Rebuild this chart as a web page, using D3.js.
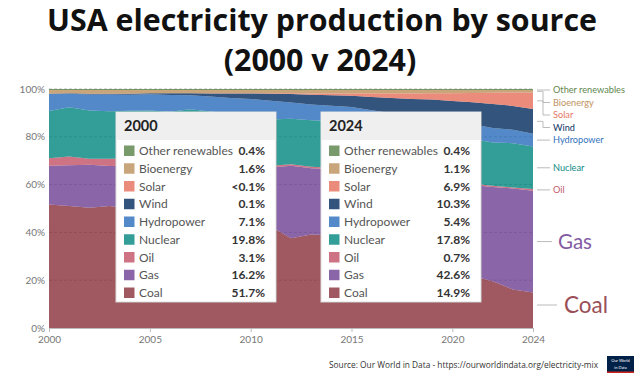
<!DOCTYPE html>
<html>
<head>
<meta charset="utf-8">
<script src="https://cdn.jsdelivr.net/npm/d3@7"></script>
<style>
  body { margin: 0; background: #fff; }
  svg { display: block; }
</style>
</head>
<body>
<svg id="chart" width="644" height="377"></svg>
<script>
// yearly share of US electricity (%)
const years = d3.range(2000, 2025);
const coal = [51.7, 50.9, 50.1, 50.8, 49.8, 49.6, 49.0, 48.5, 48.2, 44.5, 44.8, 42.3, 37.4, 39.1, 38.7, 33.2, 30.4, 30.1, 27.4, 23.5, 19.3, 21.9, 19.7, 16.2, 14.9];
const gas = [16.2, 17.1, 17.9, 16.7, 17.9, 18.8, 20.1, 21.6, 21.4, 23.3, 23.9, 24.7, 30.3, 27.7, 27.5, 32.7, 33.8, 31.7, 35.1, 38.4, 40.5, 38.3, 39.8, 42.5, 42.6];
const oil = [3.1, 3.6, 2.5, 3.0, 3.0, 3.0, 1.6, 1.6, 1.1, 1.0, 0.9, 0.7, 0.6, 0.7, 0.7, 0.7, 0.6, 0.5, 0.6, 0.5, 0.4, 0.5, 0.6, 0.4, 0.7];
const nuclear = [19.8, 20.6, 20.2, 19.7, 19.9, 19.3, 19.4, 19.4, 19.6, 20.2, 19.6, 19.3, 19.0, 19.4, 19.5, 19.5, 19.7, 20.0, 19.3, 19.6, 19.7, 18.9, 18.2, 18.6, 17.8];
const hydro = [7.1, 5.6, 6.6, 7.0, 6.7, 6.7, 7.0, 5.8, 6.2, 6.8, 6.3, 7.8, 6.8, 6.6, 6.3, 6.1, 6.5, 7.4, 7.0, 6.6, 7.2, 6.2, 6.1, 5.7, 5.4];
const wind = [0.1, 0.2, 0.3, 0.3, 0.4, 0.4, 0.7, 0.8, 1.3, 1.9, 2.3, 2.9, 3.5, 4.1, 4.4, 4.7, 5.6, 6.3, 6.5, 7.1, 8.4, 9.2, 10.2, 10.0, 10.3];
const solar = [0.01, 0.01, 0.01, 0.01, 0.01, 0.02, 0.02, 0.02, 0.03, 0.04, 0.1, 0.2, 0.3, 0.5, 0.7, 0.9, 1.4, 1.9, 2.3, 2.6, 3.3, 3.9, 4.7, 5.6, 6.9];
const bio = [1.6, 1.4, 1.6, 1.6, 1.6, 1.4, 1.4, 1.4, 1.4, 1.4, 1.4, 1.4, 1.4, 1.5, 1.5, 1.5, 1.5, 1.5, 1.5, 1.4, 1.4, 1.3, 1.2, 1.1, 1.1];
const other = [0.4, 0.4, 0.4, 0.4, 0.4, 0.4, 0.4, 0.4, 0.4, 0.4, 0.4, 0.4, 0.4, 0.4, 0.4, 0.4, 0.4, 0.4, 0.4, 0.4, 0.4, 0.4, 0.4, 0.4, 0.4];

const sources = ["Coal", "Gas", "Oil", "Nuclear", "Hydropower", "Wind", "Solar", "Bioenergy", "Other renewables"];
const series = [coal, gas, oil, nuclear, hydro, wind, solar, bio, other];
const xTicks = [2000, 2005, 2010, 2015, 2020, 2024];
const yTicks = [0, 0.2, 0.4, 0.6, 0.8, 1];
const boxYears = [2000, 2024];

const colors = {
  "Coal": "#883039", "Gas": "#6D3E91", "Oil": "#C15065", "Nuclear": "#00847E",
  "Hydropower": "#286BBB", "Wind": "#00295B", "Solar": "#E56E5A",
  "Bioenergy": "#BC8E5A", "Other renewables": "#578145"
};

const rows = years.map((y, i) => {
  const r = { year: y };
  sources.forEach((s, j) => r[s] = series[j][i]);
  return r;
});

const svg = d3.select("#chart");

// title
const title = svg.append("g")
  .style("font-family", "'Open Sans', sans-serif")
  .style("font-weight", 700)
  .attr("fill", "#111");
const t1 = title.append("text").attr("x", 322).attr("y", 31)
  .attr("text-anchor", "middle").style("font-size", "32px")
  .text("USA electricity production by source");
const t2 = title.append("text").attr("x", 320).attr("y", 71)
  .attr("text-anchor", "middle").style("font-size", "32px")
  .text("(2000 v 2024)");
// fit the first line to the picture's width
const fs = 32 * 550 / t1.node().getComputedTextLength();
t1.style("font-size", fs + "px");
t2.style("font-size", fs + "px");

const x = d3.scaleLinear().domain([2000, 2024]).range([49, 533]);
const y = d3.scaleLinear().domain([0, 1]).range([328, 89]);

const stack = d3.stack().keys(sources).offset(d3.stackOffsetExpand);
const layers = stack(rows);

const area = d3.area()
  .x(d => x(d.data.year))
  .y0(d => y(d[0]))
  .y1(d => y(d[1]));

// grid
svg.append("g").selectAll("line")
  .data(yTicks.slice(1))
  .join("line")
  .attr("x1", 49).attr("x2", 533)
  .attr("y1", d => y(d)).attr("y2", d => y(d))
  .attr("stroke", "#bbb")
  .attr("stroke-dasharray", "3,2");

svg.append("g").selectAll("path")
  .data(layers)
  .join("path")
  .attr("d", area)
  .attr("fill", d => colors[d.key])
  .attr("fill-opacity", 0.8);

// axes
const font = "Lato, sans-serif";
svg.append("g").selectAll("text")
  .data(yTicks)
  .join("text")
  .attr("x", 45).attr("y", d => y(d) + 3.5)
  .attr("text-anchor", "end")
  .style("font-family", font).style("font-size", "10px")
  .attr("fill", "#777")
  .text(d3.format(".0%"));

const xAxis = svg.append("g").attr("transform", "translate(0,328)")
  .call(d3.axisBottom(x).tickValues(xTicks).tickFormat(d3.format("d")).tickSize(4).tickPadding(4));
xAxis.select(".domain").attr("stroke", "#bbb");
xAxis.selectAll(".tick line").attr("stroke", "#bbb");
xAxis.selectAll(".tick text").style("font-family", font).style("font-size", "10px").attr("fill", "#777");

// right-hand labels
const last = layers.map(l => ({ key: l.key, mid: y((l[l.length - 1][0] + l[l.length - 1][1]) / 2) }));
const big = { "Gas": 20.5, "Coal": 22.5 };
let prev = 90 - 12.5;
const placed = last.slice().reverse().map(d => {
  let ly = Math.max(d.mid, prev + 12.5);
  if (big[d.key]) ly = Math.min(Math.max(d.mid, prev + 20), 305);
  prev = ly;
  return Object.assign({ ly }, d);
});

const labels = svg.append("g");
labels.selectAll("path")
  .data(placed)
  .join("path")
  .attr("d", d => big[d.key]
    ? `M537,${d.ly}H${d.key === "Coal" ? 557 : 552}`
    : (Math.abs(d.ly - d.mid) < 1.5 ? `M537,${d.ly}H550` : `M537,${d.mid}H543V${d.ly}H550`))
  .attr("fill", "none")
  .attr("stroke", "#bbb")
  .attr("stroke-width", 1);

labels.selectAll("text")
  .data(placed)
  .join("text")
  .attr("x", d => big[d.key] ? (d.key === "Coal" ? 564 : 558) : 553)
  .attr("y", d => d.ly)
  .attr("dy", "0.35em")
  .style("font-family", font)
  .style("font-size", d => (big[d.key] || 9.2) + "px")
  .attr("fill", d => d3.interpolateRgb(colors[d.key], "#fff")(big[d.key] ? 0.15 : 0.05))
  .text(d => d.key);

// the two hover boxes
const fmt = v => v < 0.1 ? "<0.1%" : v.toFixed(1) + "%";
const boxes = svg.append("g").selectAll("g")
  .data(boxYears.map((yr, i) => ({ yr, bx: i === 0 ? 116 : 321 })))
  .join("g")
  .attr("transform", d => `translate(${d.bx},112)`)
  .style("font-family", font);

boxes.append("rect")
  .attr("x", 1).attr("y", 1).attr("width", 160).attr("height", 190)
  .attr("fill", "rgba(0,0,0,0.12)");
boxes.append("rect")
  .attr("width", 160).attr("height", 190)
  .attr("fill", "#fff").attr("stroke", "#ddd");
boxes.append("rect")
  .attr("x", 0.5).attr("y", 0.5).attr("width", 159).attr("height", 27.5)
  .attr("fill", "#efefef");
boxes.append("text")
  .attr("x", 8).attr("y", 19)
  .style("font-size", "14.5px").style("font-weight", 700)
  .attr("fill", "#222")
  .text(d => d.yr);

const entry = boxes.selectAll("g.row")
  .data(d => sources.slice().reverse().map(s => ({ s, v: rows[years.indexOf(d.yr)][s] })))
  .join("g")
  .attr("class", "row")
  .attr("transform", (d, i) => `translate(0,${39 + i * 17.75})`);

entry.append("rect")
  .attr("x", 8).attr("y", -5.5).attr("width", 10.5).attr("height", 10.5)
  .attr("fill", d => colors[d.s]).attr("fill-opacity", 0.8);
entry.append("text")
  .attr("x", 23).attr("dy", "0.35em")
  .style("font-size", "12px").attr("fill", "#555")
  .text(d => d.s);
entry.append("text")
  .attr("x", 149).attr("dy", "0.35em")
  .attr("text-anchor", "end")
  .style("font-size", "12px").style("font-weight", 700).attr("fill", "#333")
  .text(d => fmt(d.v));

// source line and logo
svg.append("text")
  .attr("x", 598).attr("y", 368)
  .attr("text-anchor", "end")
  .style("font-family", "'Open Sans', sans-serif").style("font-size", "9px")
  .attr("textLength", 269).attr("lengthAdjust", "spacingAndGlyphs")
  .attr("fill", "#333")
  .text("Source: Our World in Data - https://ourworldindata.org/electricity-mix");

const logo = svg.append("g").attr("transform", "translate(607,356)");
logo.append("rect").attr("width", 27).attr("height", 17).attr("fill", "#002147");
logo.append("rect").attr("y", 15.5).attr("width", 27).attr("height", 1.5).attr("fill", "#ce261e");
logo.append("text").attr("x", 13.5).attr("y", 5.6).attr("text-anchor", "middle")
  .style("font-family", "Lato, sans-serif").style("font-size", "4px").attr("fill", "#fff").text("Our World");
logo.append("text").attr("x", 13.5).attr("y", 13).attr("text-anchor", "middle")
  .style("font-family", "Lato, sans-serif").style("font-size", "4px").attr("fill", "#fff").text("in Data");
</script>
</body>
</html>
